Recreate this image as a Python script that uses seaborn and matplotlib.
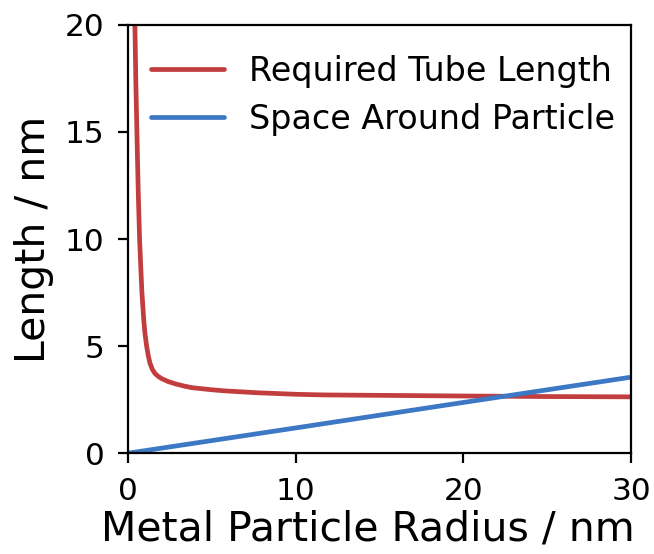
import matplotlib
matplotlib.use("Agg")
import matplotlib.pyplot as plt
import seaborn as sns
import pandas as pd

# Data
tube_radius = [0.40, 0.46, 0.52, 0.60, 0.68, 0.75, 0.82, 0.93, 1.00, 1.10, 1.20,
               1.30, 1.45, 1.60, 1.80, 2.00, 2.40, 2.80, 3.30, 3.80, 4.50, 5.00,
               5.76, 7.74, 10.0, 11.7, 15.0, 20.0, 25.0, 30.0]
tube_length = [20.0, 17.2, 15.0, 12.2, 10.0, 8.7, 7.5, 6.2, 5.6, 5.0, 4.55,
               4.2, 3.9, 3.72, 3.58, 3.48, 3.34, 3.24, 3.14, 3.06, 3.00, 2.96,
               2.91, 2.82, 2.75, 2.72, 2.70, 2.67, 2.645, 2.63]
space_radius = [0.0, 10.0, 20.0, 30.0]
space_length = [0.0, 1.18, 2.37, 3.55]

labels = ["Required Tube Length", "Space Around Particle"]
x_ticks = [0, 10, 20, 30]
y_ticks = [0, 5, 10, 15, 20]

sns.set_style("ticks")
plt.rcParams["font.family"] = ["DejaVu Sans"]

fig = plt.figure(figsize=(6.54, 5.54), dpi=100)
ax = fig.add_axes([0.196, 0.182, 0.769, 0.773])

df_tube = pd.DataFrame({"r": tube_radius, "L": tube_length})
df_space = pd.DataFrame({"r": space_radius, "L": space_length})

sns.lineplot(data=df_tube, x="r", y="L", ax=ax, color="#c23d3d", linewidth=3.4,
             label=labels[0], sort=False)
sns.lineplot(data=df_space, x="r", y="L", ax=ax, color="#3d78c4", linewidth=3.4,
             label=labels[1], sort=False)

ax.set_xlim(0, 30)
ax.set_ylim(0, 20)
ax.set_xticks(x_ticks)
ax.set_yticks(y_ticks)
ax.set_xlabel("Metal Particle Radius / nm", fontsize=29.5, color="black", labelpad=3)
ax.set_ylabel("Length / nm", fontsize=29.5, color="black", labelpad=8)
ax.xaxis.label.set_x(0.476)
ax.tick_params(axis="both", labelsize=22.5, length=7, width=1.6, colors="black", pad=10)
for s in ax.spines.values():
    s.set_visible(True)
    s.set_color("black")
    s.set_linewidth(1.6)

leg = ax.legend(loc="upper right", bbox_to_anchor=(1.008, 0.977), frameon=False,
                fontsize=24, handlelength=2.2, handletextpad=0.75, labelspacing=0.45,
                borderaxespad=0.2)
for t in leg.get_texts():
    t.set_color("black")

fig.savefig("out.png", dpi=100)
